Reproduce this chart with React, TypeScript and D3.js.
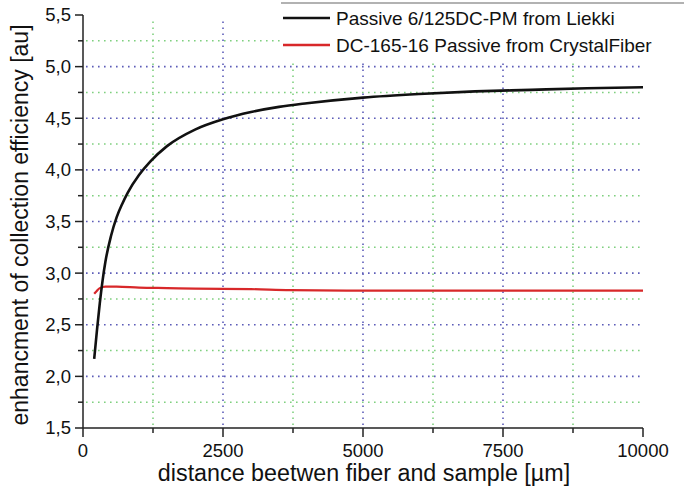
import React, { useEffect, useMemo } from "react";
import * as d3 from "d3";

const W = 684;
const H = 490;

// black curve: Passive 6/125DC-PM from Liekki
const liekkiX = [200, 250, 300, 350, 400, 500, 600, 700, 800, 1000, 1200, 1500, 2000, 2500, 3000, 3500, 4000, 5000, 6000, 7000, 8000, 9000, 10000];
const liekkiY = [2.17, 2.45, 2.71, 2.93, 3.11, 3.36, 3.54, 3.67, 3.78, 3.95, 4.08, 4.23, 4.39, 4.49, 4.56, 4.61, 4.645, 4.7, 4.735, 4.76, 4.775, 4.79, 4.8];

// red curve: DC-165-16 Passive from CrystalFiber
const crystalX = [200, 250, 300, 400, 600, 1000, 1500, 2000, 3000, 3700, 5000, 7500, 10000];
const crystalY = [2.8, 2.83, 2.855, 2.87, 2.87, 2.86, 2.855, 2.85, 2.845, 2.835, 2.83, 2.83, 2.83];

const xMajor = [0, 2500, 5000, 7500, 10000];
const xMinor = [1250, 3750, 6250, 8750];
const yMajor = [1.5, 2.0, 2.5, 3.0, 3.5, 4.0, 4.5, 5.0, 5.5];
const yMinor = [1.75, 2.25, 2.75, 3.25, 3.75, 4.25, 4.75, 5.25];

const seriesNames = ["Passive 6/125DC-PM from Liekki", "DC-165-16 Passive from CrystalFiber"];
const seriesColors = ["#111111", "#d8282a"];

const FONT = "Liberation Sans, Arial, sans-serif";

export default function App() {
  useEffect(() => {
    document.body.style.margin = "0";
  }, []);

  const x = useMemo(() => d3.scaleLinear().domain([0, 10000]).range([83, 643]), []);
  const y = useMemo(() => d3.scaleLinear().domain([1.5, 5.5]).range([428, 15]), []);

  const line = d3
    .line<[number, number]>()
    .x((d) => x(d[0]))
    .y((d) => y(d[1]))
    .curve(d3.curveMonotoneX);

  const liekki = line(liekkiX.map((v, i) => [v, liekkiY[i]]));
  const crystal = line(crystalX.map((v, i) => [v, crystalY[i]]));
  const fmt = (v: number) => v.toFixed(1).replace(".", ",");

  const blue = "#5c5cb8";
  const green = "#7fd07f";

  return (
    <svg width={W} height={H} style={{ display: "block", background: "#fff" }} fontFamily={FONT}>
      {/* grid */}
      <g className="grid" strokeWidth={1.6} strokeDasharray="1.6 4.4">
        {yMinor.map((v) => (
          <line key={"ym" + v} x1={x(0) + 3} x2={x(10000)} y1={y(v)} y2={y(v)} stroke={green} />
        ))}
        {xMinor.map((v) => (
          <line key={"xm" + v} x1={x(v)} x2={x(v)} y1={y(1.5) - 3} y2={y(5.5) + 4} stroke={green} />
        ))}
        {yMajor.slice(1, -1).map((v) => (
          <line key={"yM" + v} x1={x(0) + 3} x2={x(10000)} y1={y(v)} y2={y(v)} stroke={blue} />
        ))}
        {xMajor.slice(1, -1).map((v) => (
          <line key={"xM" + v} x1={x(v)} x2={x(v)} y1={y(1.5) - 3} y2={y(5.5) + 4} stroke={blue} />
        ))}
      </g>

      {/* curves */}
      <path d={crystal || ""} fill="none" stroke={seriesColors[1]} strokeWidth={2.2} />
      <path d={liekki || ""} fill="none" stroke={seriesColors[0]} strokeWidth={2.6} />

      {/* axes */}
      <g stroke="#222" strokeWidth={1.5}>
        <line x1={x(0)} x2={x(0)} y1={y(5.5)} y2={y(1.5)} />
        <line x1={x(0)} x2={x(10000)} y1={y(1.5)} y2={y(1.5)} />
        {yMajor.map((v) => (
          <line key={"yt" + v} x1={x(0) - 8} x2={x(0)} y1={y(v)} y2={y(v)} />
        ))}
        {yMinor.map((v) => (
          <line key={"ymt" + v} x1={x(0) - 5} x2={x(0)} y1={y(v)} y2={y(v)} />
        ))}
        {xMajor.map((v) => (
          <line key={"xt" + v} x1={x(v)} x2={x(v)} y1={y(1.5)} y2={y(1.5) + 9} />
        ))}
        {xMinor.map((v) => (
          <line key={"xmt" + v} x1={x(v)} x2={x(v)} y1={y(1.5)} y2={y(1.5) + 5} />
        ))}
      </g>

      <g fontSize={18.5} fill="#111">
        {yMajor.map((v) => (
          <text key={"yl" + v} x={x(0) - 12} y={y(v)} dy="0.35em" textAnchor="end">
            {fmt(v)}
          </text>
        ))}
        {xMajor.map((v) => (
          <text key={"xl" + v} x={x(v)} y={y(1.5) + 29} textAnchor="middle">
            {v}
          </text>
        ))}
      </g>

      <text x={364} y={481} textAnchor="middle" fontSize={23.3} fill="#111">
        distance beetwen fiber and sample [µm]
      </text>
      <text transform={`translate(28, 225) rotate(-90)`} textAnchor="middle" fontSize={23} fill="#111">
        enhancment of collection efficiency [au]
      </text>

      {/* legend */}
      <g>
        <rect x={280} y={3} width={410} height={56} fill="#fff" />
        <line x1={281} x2={W} y1={3} y2={3} stroke="#999" strokeWidth={1.5} />
        {seriesNames.map((name, i) => (
          <g key={name} transform={`translate(0, ${18 + i * 27})`}>
            <line x1={283} x2={330} y1={0} y2={0} stroke={seriesColors[i]} strokeWidth={2.6} />
            <text x={336} y={0} dy="0.35em" fontSize={19} fill="#111">
              {name}
            </text>
          </g>
        ))}
      </g>
    </svg>
  );
}
